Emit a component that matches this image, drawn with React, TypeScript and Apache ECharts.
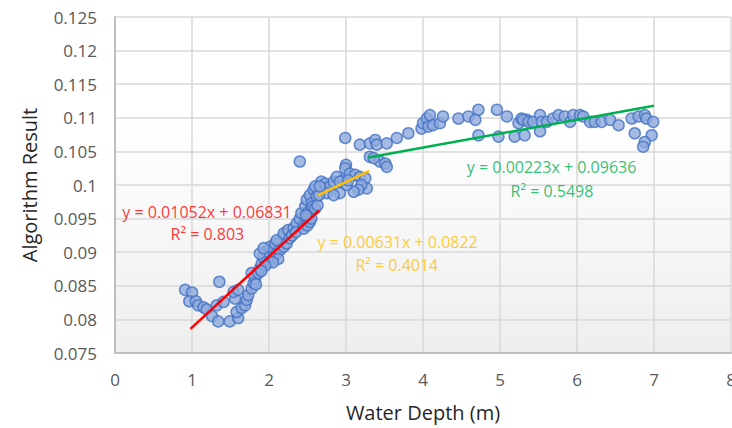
import React, { useEffect, useRef } from "react";
import * as echarts from "echarts";

const depth: number[] = [
  0.91, 1.0, 0.965, 1.05, 1.08, 1.15, 1.19, 1.26, 1.34, 1.355, 1.32, 1.41, 1.49, 1.6, 1.58, 1.56, 1.54, 1.6,
  1.645, 1.69, 1.71, 1.73, 1.775, 1.8, 1.82, 1.775, 1.86, 1.88, 1.905, 1.925, 1.97, 2.01, 2.08, 2.14, 2.21,
  1.88, 1.93, 2.01, 2.06, 2.1, 2.14, 2.19, 2.23, 2.1, 2.19, 2.25, 2.32, 2.36, 2.4, 2.42, 2.47, 2.49, 2.53,
  2.58, 2.555, 2.51, 2.62, 2.68, 2.73, 2.79, 2.84, 2.88, 2.96, 3.0, 2.27, 2.4, 2.6, 2.75, 2.92,
  2.3, 2.35, 2.45, 2.5, 2.52, 2.55, 2.57, 2.12, 2.05, 1.95,
  2.45, 2.5, 2.53, 2.55, 2.48, 2.6, 2.63, 2.65, 1.83, 1.9,
  2.99, 3.18, 3.31, 3.38, 3.4, 3.53, 3.66, 3.81, 3.31, 3.44, 3.51, 3.53, 2.99, 3.05, 3.12, 3.18, 3.25, 3.27,
  3.2, 3.16, 3.1, 2.92, 2.66, 3.01, 3.03, 2.84, 3.36,
  3.98, 4.0, 4.05, 4.09, 4.07, 4.13, 4.22, 4.26, 4.46, 4.59, 4.68, 4.72, 4.72, 4.96, 4.98, 5.09, 5.19, 5.24,
  5.28, 5.32, 5.35, 5.3, 5.37, 5.43, 5.52, 5.54, 5.52, 5.61, 5.69, 5.76, 5.84, 5.91, 5.95, 6.04, 6.08, 6.17,
  6.23, 6.32, 6.43, 6.54, 6.71, 6.8, 6.88, 6.9, 6.99, 6.75, 6.97, 6.88, 6.86,
];
const result: number[] = [
  0.0844, 0.084, 0.0827, 0.0827, 0.0821, 0.0818, 0.0815, 0.0805, 0.0797, 0.0856, 0.0821, 0.0826, 0.0797, 0.0802, 0.0811, 0.0831, 0.0841, 0.0844,
  0.0817, 0.0821, 0.0829, 0.0836, 0.0846, 0.0854, 0.0861, 0.0869, 0.0869, 0.0876, 0.0883, 0.0893, 0.0901, 0.0908, 0.0913, 0.0916, 0.0926,
  0.0898, 0.0906, 0.0886, 0.0893, 0.0898, 0.0903, 0.0908, 0.0913, 0.0918, 0.0928, 0.0933, 0.0936, 0.0943, 0.095, 0.0958, 0.0968, 0.0978, 0.0985,
  0.0993, 0.0973, 0.096, 0.0983, 0.1005, 0.1002, 0.0998, 0.1005, 0.1012, 0.1007, 0.103, 0.0921, 0.1035, 0.0998, 0.0988, 0.0988,
  0.0925, 0.093, 0.094, 0.0948, 0.0955, 0.0962, 0.0968, 0.089, 0.0885, 0.088,
  0.0935, 0.094, 0.0945, 0.095, 0.0955, 0.0965, 0.097, 0.0985, 0.0852, 0.0872,
  0.107, 0.106, 0.1062, 0.1067, 0.106, 0.1062, 0.107, 0.1077, 0.1042, 0.1035, 0.1032, 0.1027, 0.1025, 0.1017, 0.1015, 0.1012, 0.101, 0.0995,
  0.1, 0.0993, 0.099, 0.1005, 0.0998, 0.1, 0.1007, 0.0985, 0.104,
  0.1084, 0.1092, 0.1099, 0.1104, 0.1087, 0.1089, 0.1092, 0.1102, 0.1099, 0.1102, 0.1097, 0.1112, 0.1074, 0.1112, 0.1072, 0.1102, 0.1072, 0.1092,
  0.1099, 0.1074, 0.1097, 0.1097, 0.1094, 0.1094, 0.1104, 0.1094, 0.108, 0.1094, 0.1099, 0.1104, 0.1102, 0.1094, 0.1104, 0.1104, 0.1102, 0.1094,
  0.1094, 0.1094, 0.1097, 0.1089, 0.1099, 0.1102, 0.1104, 0.1099, 0.1094, 0.1077, 0.1074, 0.1064, 0.1057,
];

// trendline segments [x, y]
const redLine: number[][] = [[0.98, 0.0786], [2.65, 0.0962]];
const orangeLine: number[][] = [[2.64, 0.0985], [3.3, 0.1021]];
const greenLine: number[][] = [[3.29, 0.1041], [7.0, 0.1118]];

const redEq = ["y = 0.01052x + 0.06831", "R² = 0.803"];
const orangeEq = ["y = 0.00631x + 0.0822", "R² = 0.4014"];
const greenEq = ["y = 0.00223x + 0.09636", "R² = 0.5498"];
// label anchor positions (data coords) for eq line and R² line
const redEqPos: number[][] = [[1.195, 0.096], [1.2, 0.0927]];
const orangeEqPos: number[][] = [[3.67, 0.0915], [3.66, 0.0881]];
const greenEqPos: number[][] = [[5.67, 0.1027], [5.675, 0.0991]];

const FONT = "Open Sans";

function labelSeries(texts: string[], pos: number[][], color: string) {
  return {
    type: "scatter",
    symbolSize: 0,
    silent: true,
    z: 10,
    data: pos.map((p, i) => ({ value: p, name: texts[i] })),
    label: {
      show: true,
      position: "inside",
      formatter: (p: any) => p.name,
      color,
      fontSize: 16,
      fontFamily: FONT,
    },
  };
}

function lineSeries(pts: number[][], color: string) {
  return {
    type: "line",
    data: pts,
    symbol: "none",
    z: 5,
    lineStyle: { color, width: 2.5 },
  };
}

export default function App() {
  const ref = useRef<HTMLDivElement>(null);
  useEffect(() => {
    document.body.style.margin = "0";
    document.body.style.overflow = "hidden";
    const chart = echarts.init(ref.current!, null, { renderer: "svg" });
    const points = depth.map((d, i) => [d, result[i]]);
    chart.setOption({
      animation: false,
      backgroundColor: "#ffffff",
      grid: {
        left: 115,
        top: 17,
        right: 9,
        bottom: 75,
        show: true,
        borderWidth: 0,
        backgroundColor: {
          type: "linear",
          x: 0,
          y: 0,
          x2: 0,
          y2: 1,
          colorStops: [
            { offset: 0, color: "#ffffff" },
            { offset: 0.3, color: "#ffffff" },
            { offset: 1, color: "#eeeeee" },
          ],
        },
      },
      xAxis: {
        type: "value",
        min: 0,
        max: 8,
        interval: 1,
        name: "Water Depth (m)",
        nameLocation: "middle",
        nameGap: 49,
        nameTextStyle: { fontSize: 20, fontFamily: FONT, color: "#262626" },
        axisLine: { show: true, lineStyle: { color: "#bfbfbf", width: 2 } },
        axisTick: { show: false },
        axisLabel: { fontSize: 17, fontFamily: FONT, color: "#595959", margin: 18 },
        splitLine: { show: true, lineStyle: { color: "#d9d9d9", width: 1.5 } },
      },
      yAxis: {
        type: "value",
        min: 0.075,
        max: 0.125,
        interval: 0.005,
        name: "Algorithm Result",
        nameLocation: "middle",
        nameGap: 76,
        nameTextStyle: { fontSize: 20, fontFamily: FONT, color: "#262626" },
        axisLine: { show: true, lineStyle: { color: "#bfbfbf", width: 2 } },
        axisTick: { show: false },
        axisLabel: {
          fontSize: 17,
          fontFamily: FONT,
          color: "#595959",
          margin: 18,
          formatter: (v: number) => String(parseFloat(v.toFixed(3))),
        },
        splitLine: { show: true, lineStyle: { color: "#d9d9d9", width: 1.5 } },
      },
      series: [
        {
          type: "scatter",
          data: points,
          symbol: "circle",
          symbolSize: 11,
          z: 3,
          itemStyle: { color: "#8FAADC", borderColor: "#4472C4", borderWidth: 1.5 },
        },
        lineSeries(redLine, "#FF0000"),
        lineSeries(orangeLine, "#FFC000"),
        lineSeries(greenLine, "#00B050"),
        labelSeries(redEq, redEqPos, "#FF0000"),
        labelSeries(orangeEq, orangeEqPos, "#FFC000"),
        labelSeries(greenEq, greenEqPos, "#00B050"),
      ],
    });
    return () => chart.dispose();
  }, []);
  return <div ref={ref} style={{ width: 740, height: 428 }} />;
}
